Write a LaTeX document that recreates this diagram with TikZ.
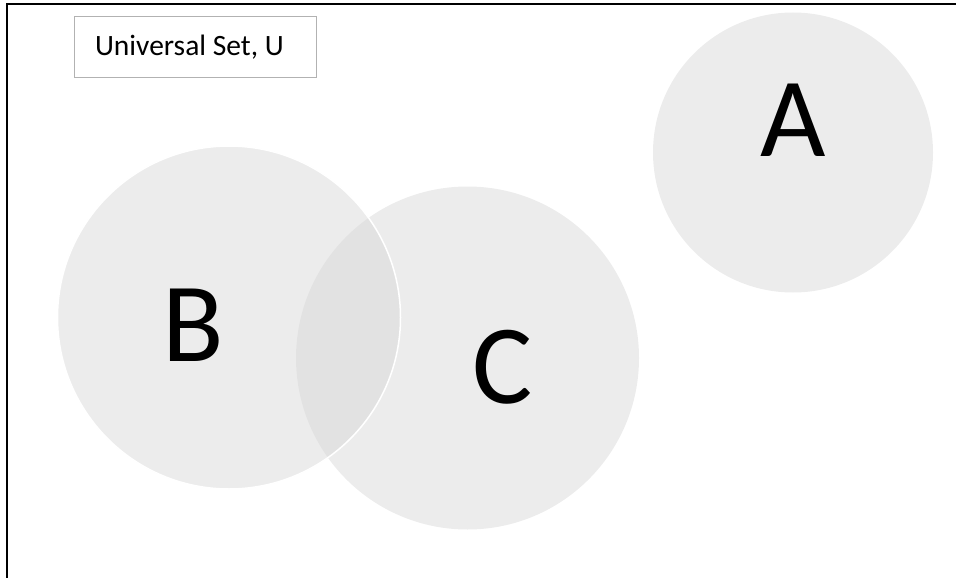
\documentclass[tikz,border=0pt]{standalone}
\usepackage{fontspec}
\setmainfont{Carlito}
\usetikzlibrary{positioning}

\begin{document}
\begin{tikzpicture}[x=1pt,y=-1pt,setnode/.style={circle,fill=black!15,fill opacity=0.5,inner sep=0pt},letternode/.style={inner sep=0pt,font=\fontsize{113}{113}\selectfont},boxnode/.style={rectangle,draw=black!30,line width=1pt,inner sep=0pt,minimum width=242pt,minimum height=61pt,font=\fontsize{29.5}{29.5}\selectfont}]
	
	\useasboundingbox (0,0) rectangle (956,578);
	
	% frame of U
	\coordinate (fb) at (6.5,578);
	\coordinate (fc) at (6.5,4);
	\coordinate (fr) at (956,4);
	\draw[line width=2pt] (fb) -- (fc) -- (fr);
	
	\node [boxnode] (u) at (195, 47.5) {\makebox[200pt][l]{Universal Set, U}};
	
	\node [setnode, minimum size=280pt] (a) at (793, 152.5) {};
	\node [setnode, minimum size=343pt] (c) at (467.5, 358) {};
	\node [setnode, minimum size=343pt, draw=white, draw opacity=1, line width=1.5pt] (b) at (229, 317.5) {};
	
	\node [letternode] (la) at (793, 120) {A};
	\node [letternode] (lb) at (193, 325) {B};
	\node [letternode] (lc) at (503, 367) {C};
\end{tikzpicture}
\end{document}
